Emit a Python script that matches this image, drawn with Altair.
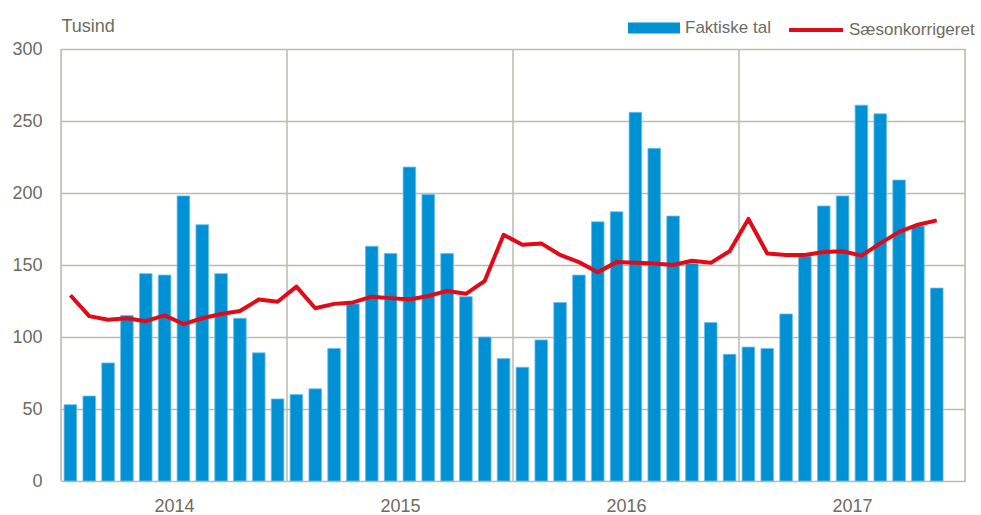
import altair as alt
import pandas as pd

years = ["2014", "2015", "2016", "2017"]
faktiske = [53, 59, 82, 115, 144, 143, 198, 178, 144, 113, 89, 57,
            60, 64, 92, 123, 163, 158, 218, 199, 158, 128, 100, 85,
            79, 98, 124, 143, 180, 187, 256, 231, 184, 151, 110, 88,
            93, 92, 116, 156, 191, 198, 261, 255, 209, 177, 134]
saeson = [129, 114.5, 112, 113, 111, 115, 109, 113, 116, 118, 126, 124.5,
          135, 120, 123, 124, 128, 127, 126, 128.5, 132, 130, 139, 171,
          164, 165, 157, 152, 145, 152, 151.5, 151, 150, 153, 151.5, 159.5,
          182, 158, 157, 157, 159, 159.5, 156.5, 165, 173, 178, 181]
y_ticks = [0, 50, 100, 150, 200, 250, 300]
series = ["Faktiske tal", "Sæsonkorrigeret"]

n = len(faktiske)
df = pd.DataFrame({"m": list(range(n)), "faktiske": faktiske, "saeson": saeson})
df["x0"] = df["m"] + 0.165
df["x1"] = df["m"] + 0.835
df["xc"] = df["m"] + 0.5
df["serie_bar"] = series[0]
df["serie_line"] = series[1]

bounds = pd.DataFrame({"b": [12 * i for i in range(len(years) + 1)]})

FONT = "Liberation Sans"
FS = 18
LFS = 17
TXT = "#6d6c60"
GRID = "#bdbbb0"
BLUE = "#0090d4"
RED = "#e30a17"

xscale = alt.Scale(domain=[0, 12 * len(years)], nice=False, zero=False)
yscale = alt.Scale(domain=[0, 300], nice=False)

label_expr = " : ".join(f"datum.value == {12 * i + 6} ? '{y}'" for i, y in enumerate(years)) + " : ''"

xaxis = alt.Axis(values=[12 * i + 6 for i in range(len(years))], labelExpr=label_expr,
                 grid=False, ticks=False, tickSize=0, domain=False, title=None,
                 labelFont=FONT, labelFontSize=FS, labelColor=TXT, labelPadding=16)
yaxis = alt.Axis(values=y_ticks, grid=True, gridColor=GRID, gridWidth=1.5,
                 domain=False, ticks=False, tickSize=0, labelPadding=19,
                 labelFont=FONT, labelFontSize=FS, labelColor=TXT,
                 title="Tusind", titleAngle=0, titleAlign="left",
                 titleBaseline="alphabetic", titleX=0, titleY=-18,
                 titleFont=FONT, titleFontSize=FS, titleFontWeight="normal",
                 titleColor=TXT)

rules = alt.Chart(bounds).mark_rule(color=GRID, strokeWidth=1.5).encode(
    x=alt.X("b:Q", scale=xscale, axis=xaxis)
)

bars = alt.Chart(df).mark_bar(stroke="#6cc0ea", strokeWidth=0.8).encode(
    x=alt.X("x0:Q", scale=xscale, axis=xaxis),
    x2="x1:Q",
    y=alt.Y("faktiske:Q", scale=yscale, axis=yaxis),
    y2=alt.datum(0),
    fill=alt.Fill("serie_bar:N", scale=alt.Scale(domain=[series[0]], range=[BLUE]),
                  legend=alt.Legend(title=None, orient="none", legendX=567, legendY=-47,
                                    symbolType="M-1,-0.2115H1V0.2115H-1Z", symbolSize=2704,
                                    symbolStrokeWidth=0, labelFont=FONT, labelFontSize=LFS,
                                    labelColor=TXT, labelOffset=5, padding=0,
                                    direction="horizontal")),
)

line = alt.Chart(df).mark_line(strokeWidth=4, strokeJoin="round").encode(
    x=alt.X("xc:Q", scale=xscale, axis=xaxis),
    y=alt.Y("saeson:Q", scale=yscale, axis=yaxis),
    stroke=alt.Stroke("serie_line:N", scale=alt.Scale(domain=[series[1]], range=[RED]),
                      legend=alt.Legend(title=None, orient="none", legendX=726, legendY=-48,
                                        symbolType="stroke", symbolSize=2916,
                                        symbolStrokeWidth=4, labelFont=FONT, labelFontSize=LFS,
                                        labelColor=TXT, labelOffset=4, padding=0,
                                        direction="horizontal")),
)

chart = alt.layer(rules, bars, line).properties(
    width=904, height=432,
    autosize=alt.AutoSizeParams(type="none"),
    padding={"left": 61, "top": 49, "right": 16, "bottom": 34},
).configure_view(stroke=None).configure(background="white")

chart.save("out.html", embed_options={"renderer": "svg", "actions": False})
